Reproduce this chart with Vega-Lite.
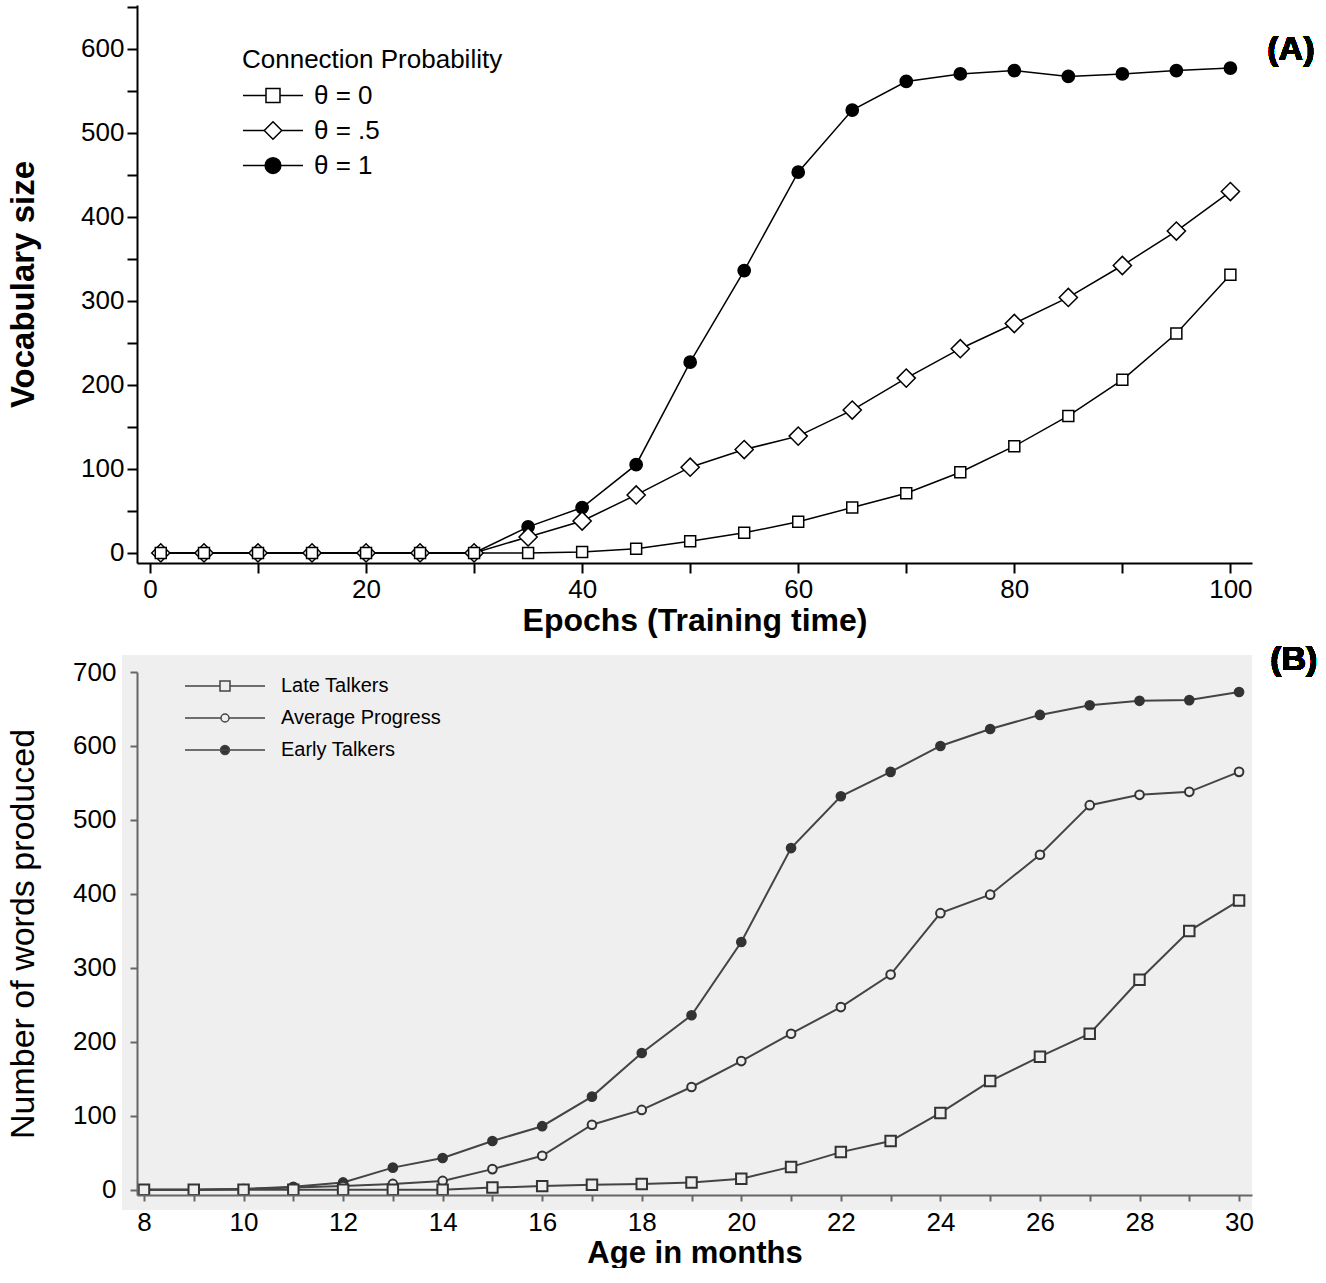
{
  "$schema": "https://vega.github.io/schema/vega-lite/v6.json",
  "padding": {"left": 6, "top": 5, "right": 0, "bottom": 0},
  "background": "white",
  "config": {
    "font": "Liberation Sans",
    "view": {"stroke": null},
    "axis": {"grid": false, "labelColor": "black", "titleColor": "black", "labelFont": "Liberation Sans", "titleFont": "Liberation Sans"},
    "legend": {"labelFont": "Liberation Sans", "titleFont": "Liberation Sans", "labelColor": "black", "titleColor": "black"}
  },
  "datasets": {
    "sim": [
      {"epoch": 1, "series": "θ = 1", "value": 0},
      {"epoch": 5, "series": "θ = 1", "value": 0},
      {"epoch": 10, "series": "θ = 1", "value": 0},
      {"epoch": 15, "series": "θ = 1", "value": 0},
      {"epoch": 20, "series": "θ = 1", "value": 0},
      {"epoch": 25, "series": "θ = 1", "value": 0},
      {"epoch": 30, "series": "θ = 1", "value": 0},
      {"epoch": 35, "series": "θ = 1", "value": 31},
      {"epoch": 40, "series": "θ = 1", "value": 54},
      {"epoch": 45, "series": "θ = 1", "value": 105},
      {"epoch": 50, "series": "θ = 1", "value": 227},
      {"epoch": 55, "series": "θ = 1", "value": 336},
      {"epoch": 60, "series": "θ = 1", "value": 453},
      {"epoch": 65, "series": "θ = 1", "value": 527},
      {"epoch": 70, "series": "θ = 1", "value": 561},
      {"epoch": 75, "series": "θ = 1", "value": 570},
      {"epoch": 80, "series": "θ = 1", "value": 574},
      {"epoch": 85, "series": "θ = 1", "value": 567},
      {"epoch": 90, "series": "θ = 1", "value": 570},
      {"epoch": 95, "series": "θ = 1", "value": 574},
      {"epoch": 100, "series": "θ = 1", "value": 577},
      {"epoch": 1, "series": "θ = .5", "value": 0},
      {"epoch": 5, "series": "θ = .5", "value": 0},
      {"epoch": 10, "series": "θ = .5", "value": 0},
      {"epoch": 15, "series": "θ = .5", "value": 0},
      {"epoch": 20, "series": "θ = .5", "value": 0},
      {"epoch": 25, "series": "θ = .5", "value": 0},
      {"epoch": 30, "series": "θ = .5", "value": 0},
      {"epoch": 35, "series": "θ = .5", "value": 19},
      {"epoch": 40, "series": "θ = .5", "value": 38},
      {"epoch": 45, "series": "θ = .5", "value": 69},
      {"epoch": 50, "series": "θ = .5", "value": 102},
      {"epoch": 55, "series": "θ = .5", "value": 123},
      {"epoch": 60, "series": "θ = .5", "value": 139},
      {"epoch": 65, "series": "θ = .5", "value": 170},
      {"epoch": 70, "series": "θ = .5", "value": 208},
      {"epoch": 75, "series": "θ = .5", "value": 243},
      {"epoch": 80, "series": "θ = .5", "value": 273},
      {"epoch": 85, "series": "θ = .5", "value": 304},
      {"epoch": 90, "series": "θ = .5", "value": 342},
      {"epoch": 95, "series": "θ = .5", "value": 383},
      {"epoch": 100, "series": "θ = .5", "value": 430},
      {"epoch": 1, "series": "θ = 0", "value": 0},
      {"epoch": 5, "series": "θ = 0", "value": 0},
      {"epoch": 10, "series": "θ = 0", "value": 0},
      {"epoch": 15, "series": "θ = 0", "value": 0},
      {"epoch": 20, "series": "θ = 0", "value": 0},
      {"epoch": 25, "series": "θ = 0", "value": 0},
      {"epoch": 30, "series": "θ = 0", "value": 0},
      {"epoch": 35, "series": "θ = 0", "value": 0},
      {"epoch": 40, "series": "θ = 0", "value": 1},
      {"epoch": 45, "series": "θ = 0", "value": 5},
      {"epoch": 50, "series": "θ = 0", "value": 14},
      {"epoch": 55, "series": "θ = 0", "value": 24},
      {"epoch": 60, "series": "θ = 0", "value": 37},
      {"epoch": 65, "series": "θ = 0", "value": 54},
      {"epoch": 70, "series": "θ = 0", "value": 71},
      {"epoch": 75, "series": "θ = 0", "value": 96},
      {"epoch": 80, "series": "θ = 0", "value": 127},
      {"epoch": 85, "series": "θ = 0", "value": 163},
      {"epoch": 90, "series": "θ = 0", "value": 206},
      {"epoch": 95, "series": "θ = 0", "value": 261},
      {"epoch": 100, "series": "θ = 0", "value": 331}
    ],
    "kids": [
      {"age": 8, "group": "Early Talkers", "words": 0},
      {"age": 9, "group": "Early Talkers", "words": 0},
      {"age": 10, "group": "Early Talkers", "words": 1},
      {"age": 11, "group": "Early Talkers", "words": 4},
      {"age": 12, "group": "Early Talkers", "words": 10},
      {"age": 13, "group": "Early Talkers", "words": 30},
      {"age": 14, "group": "Early Talkers", "words": 43},
      {"age": 15, "group": "Early Talkers", "words": 66},
      {"age": 16, "group": "Early Talkers", "words": 86},
      {"age": 17, "group": "Early Talkers", "words": 126},
      {"age": 18, "group": "Early Talkers", "words": 185},
      {"age": 19, "group": "Early Talkers", "words": 236},
      {"age": 20, "group": "Early Talkers", "words": 335},
      {"age": 21, "group": "Early Talkers", "words": 462},
      {"age": 22, "group": "Early Talkers", "words": 532},
      {"age": 23, "group": "Early Talkers", "words": 565},
      {"age": 24, "group": "Early Talkers", "words": 600},
      {"age": 25, "group": "Early Talkers", "words": 623},
      {"age": 26, "group": "Early Talkers", "words": 642},
      {"age": 27, "group": "Early Talkers", "words": 655},
      {"age": 28, "group": "Early Talkers", "words": 661},
      {"age": 29, "group": "Early Talkers", "words": 662},
      {"age": 30, "group": "Early Talkers", "words": 673},
      {"age": 8, "group": "Average Progress", "words": 0},
      {"age": 9, "group": "Average Progress", "words": 0},
      {"age": 10, "group": "Average Progress", "words": 1},
      {"age": 11, "group": "Average Progress", "words": 3},
      {"age": 12, "group": "Average Progress", "words": 5},
      {"age": 13, "group": "Average Progress", "words": 8},
      {"age": 14, "group": "Average Progress", "words": 12},
      {"age": 15, "group": "Average Progress", "words": 28},
      {"age": 16, "group": "Average Progress", "words": 46},
      {"age": 17, "group": "Average Progress", "words": 88},
      {"age": 18, "group": "Average Progress", "words": 108},
      {"age": 19, "group": "Average Progress", "words": 139},
      {"age": 20, "group": "Average Progress", "words": 174},
      {"age": 21, "group": "Average Progress", "words": 211},
      {"age": 22, "group": "Average Progress", "words": 247},
      {"age": 23, "group": "Average Progress", "words": 291},
      {"age": 24, "group": "Average Progress", "words": 374},
      {"age": 25, "group": "Average Progress", "words": 399},
      {"age": 26, "group": "Average Progress", "words": 453},
      {"age": 27, "group": "Average Progress", "words": 520},
      {"age": 28, "group": "Average Progress", "words": 534},
      {"age": 29, "group": "Average Progress", "words": 538},
      {"age": 30, "group": "Average Progress", "words": 565},
      {"age": 8, "group": "Late Talkers", "words": 0},
      {"age": 9, "group": "Late Talkers", "words": 0},
      {"age": 10, "group": "Late Talkers", "words": 0},
      {"age": 11, "group": "Late Talkers", "words": 0},
      {"age": 12, "group": "Late Talkers", "words": 0},
      {"age": 13, "group": "Late Talkers", "words": 0},
      {"age": 14, "group": "Late Talkers", "words": 0},
      {"age": 15, "group": "Late Talkers", "words": 3},
      {"age": 16, "group": "Late Talkers", "words": 5},
      {"age": 17, "group": "Late Talkers", "words": 7},
      {"age": 18, "group": "Late Talkers", "words": 8},
      {"age": 19, "group": "Late Talkers", "words": 10},
      {"age": 20, "group": "Late Talkers", "words": 15},
      {"age": 21, "group": "Late Talkers", "words": 31},
      {"age": 22, "group": "Late Talkers", "words": 51},
      {"age": 23, "group": "Late Talkers", "words": 66},
      {"age": 24, "group": "Late Talkers", "words": 104},
      {"age": 25, "group": "Late Talkers", "words": 147},
      {"age": 26, "group": "Late Talkers", "words": 180},
      {"age": 27, "group": "Late Talkers", "words": 211},
      {"age": 28, "group": "Late Talkers", "words": 284},
      {"age": 29, "group": "Late Talkers", "words": 350},
      {"age": 30, "group": "Late Talkers", "words": 391}
    ]
  },
  "vconcat": [
    {
      "width": 1115,
      "height": 558,
      "data": {"name": "sim"},
      "encoding": {
        "x": {
          "field": "epoch", "type": "quantitative",
          "scale": {"domain": [-1.2, 102], "nice": false, "zero": false},
          "axis": {
            "title": "Epochs (Training time)",
            "values": [0, 10, 20, 30, 40, 50, 60, 70, 80, 90, 100],
            "labelExpr": "datum.value % 20 === 0 ? datum.label : ''",
            "domainColor": "black", "domainWidth": 2,
            "tickColor": "black", "tickWidth": 2, "tickSize": 10,
            "labelFontSize": 26, "labelPadding": 3,
            "titleFontSize": 32, "titleFontWeight": "bold", "titlePadding": 3
          }
        },
        "y": {
          "field": "value", "type": "quantitative",
          "scale": {"domain": [-12, 652], "nice": false, "zero": false},
          "axis": {
            "title": "Vocabulary size",
            "values": [0, 50, 100, 150, 200, 250, 300, 350, 400, 450, 500, 550, 600, 650],
            "labelExpr": "datum.value % 100 === 0 ? datum.label : ''",
            "domainColor": "black", "domainWidth": 2,
            "tickColor": "black", "tickWidth": 2, "tickSize": 10,
            "labelFontSize": 26, "labelPadding": 3,
            "titleFontSize": 33, "titleFontWeight": "bold", "titlePadding": 40
          }
        }
      },
      "layer": [
        {
          "mark": {"type": "line", "color": "black", "strokeWidth": 1.5},
          "encoding": {"detail": {"field": "series"}}
        },
        {
          "mark": {"type": "point", "filled": true, "stroke": "black", "strokeWidth": 1.5, "opacity": 1},
          "encoding": {
            "shape": {
              "condition": [
                {"test": "datum.series === 'θ = 0'", "value": "square"},
                {"test": "datum.series === 'θ = .5'", "value": "diamond"}
              ],
              "value": "circle"
            },
            "fill": {"condition": {"test": "datum.series === 'θ = 1'", "value": "black"}, "value": "white"},
            "size": {
              "condition": [
                {"test": "datum.series === 'θ = .5'", "value": 330},
                {"test": "datum.series === 'θ = 1'", "value": 150}
              ],
              "value": 120
            }
          }
        },
        {
          "mark": {"type": "point", "filled": true, "stroke": "black", "strokeWidth": 1.5, "opacity": 1, "size": 0},
          "encoding": {
            "shape": {
              "field": "series", "type": "nominal",
              "scale": {
                "domain": ["θ = 0", "θ = .5", "θ = 1"],
                "range": [
                  "M-1,0H0.314M1.114,0H2.429M0.314,-0.4H1.114V0.4H0.314Z",
                  "M-1,0H0.214M1.214,0H2.429M0.714,-0.5L1.214,0L0.714,0.5L0.214,0Z",
                  "M-1,0H2.429M1.164,0A0.45,0.45,0,1,1,0.264,0A0.45,0.45,0,1,1,1.164,0Z"
                ]
              },
              "legend": {
                "title": "Connection Probability",
                "orient": "none", "legendX": 105, "legendY": 42,
                "titleFontSize": 26, "titleFontWeight": "normal", "titlePadding": 4, "titleLimit": 500,
                "labelFontSize": 26, "labelOffset": 35,
                "symbolSize": 1225, "rowPadding": 3
              }
            },
            "fill": {
              "field": "series", "type": "nominal",
              "scale": {"domain": ["θ = 0", "θ = .5", "θ = 1"], "range": ["white", "white", "black"]},
              "legend": {
                "title": "Connection Probability",
                "orient": "none", "legendX": 105, "legendY": 42,
                "titleFontSize": 26, "titleFontWeight": "normal", "titlePadding": 4, "titleLimit": 500,
                "labelFontSize": 26, "labelOffset": 35,
                "symbolSize": 1225, "rowPadding": 3
              }
            }
          }
        },
        {
          "mark": {"type": "text", "fontSize": 34, "fontWeight": "bold", "color": "black", "align": "center", "baseline": "middle"},
          "encoding": {"x": {"datum": 105.6}, "y": {"datum": 599}, "text": {"value": "(A)"}}
        }
      ]
    },
    {
      "width": 1115,
      "height": 523,
      "data": {"name": "kids"},
      "encoding": {
        "x": {
          "field": "age", "type": "quantitative",
          "scale": {"domain": [7.86, 30.26], "nice": false, "zero": false},
          "axis": {
            "title": "Age in months",
            "values": [8, 9, 10, 11, 12, 13, 14, 15, 16, 17, 18, 19, 20, 21, 22, 23, 24, 25, 26, 27, 28, 29, 30],
            "labelExpr": "datum.value % 2 === 0 ? datum.label : ''",
            "domainColor": "#666", "domainWidth": 2,
            "tickColor": "#666", "tickWidth": 2, "tickSize": 6,
            "labelFontSize": 26, "labelPadding": 8,
            "titleFontSize": 31, "titleFontWeight": "bold", "titlePadding": 3,
            "zindex": 1
          }
        },
        "y": {
          "field": "words", "type": "quantitative",
          "scale": {"domain": [-7, 700], "nice": false, "zero": false},
          "axis": {
            "title": "Number of words produced",
            "values": [0, 100, 200, 300, 400, 500, 600, 700],
            "domainColor": "#666", "domainWidth": 2,
            "tickColor": "#666", "tickWidth": 2, "tickSize": 7,
            "labelFontSize": 26, "labelPadding": 14,
            "titleFontSize": 34, "titleFontWeight": "normal", "titlePadding": 32,
            "zindex": 1
          }
        }
      },
      "layer": [
        {
          "mark": {"type": "rect", "color": "#efefef"},
          "encoding": {
            "x": {"datum": 7.56}, "x2": {"datum": 30.26},
            "y": {"datum": -27}, "y2": {"datum": 723}
          }
        },
        {
          "mark": {"type": "line", "color": "#444", "strokeWidth": 2},
          "encoding": {"detail": {"field": "group"}}
        },
        {
          "mark": {"type": "point", "filled": true, "stroke": "#333", "strokeWidth": 2, "opacity": 1},
          "encoding": {
            "shape": {"condition": {"test": "datum.group === 'Late Talkers'", "value": "square"}, "value": "circle"},
            "fill": {"condition": {"test": "datum.group === 'Early Talkers'", "value": "#333333"}, "value": "#eeeeee"},
            "size": {"condition": {"test": "datum.group === 'Late Talkers'", "value": 110}, "value": 75}
          }
        },
        {
          "mark": {"type": "point", "filled": true, "stroke": "#444", "strokeWidth": 2, "opacity": 1, "size": 0},
          "encoding": {
            "shape": {
              "field": "group", "type": "nominal",
              "scale": {
                "domain": ["Late Talkers", "Average Progress", "Early Talkers"],
                "range": [
                  "M-1,0H1.1875M1.8125,0H4M1.1875,-0.3125H1.8125V0.3125H1.1875Z",
                  "M-1,0H1.25M1.75,0H4M1.75,0A0.25,0.25,0,1,1,1.25,0A0.25,0.25,0,1,1,1.75,0Z",
                  "M-1,0H4M1.78,0A0.28,0.28,0,1,1,1.22,0A0.28,0.28,0,1,1,1.78,0Z"
                ]
              },
              "legend": {
                "title": null,
                "orient": "none", "legendX": 47, "legendY": -3,
                "labelFontSize": 20, "labelOffset": 63,
                "symbolSize": 1024, "rowPadding": 5
              }
            },
            "fill": {
              "field": "group", "type": "nominal",
              "scale": {"domain": ["Late Talkers", "Average Progress", "Early Talkers"], "range": ["#eeeeee", "#eeeeee", "#333333"]},
              "legend": {
                "title": null,
                "orient": "none", "legendX": 47, "legendY": -3,
                "labelFontSize": 20, "labelOffset": 63,
                "symbolSize": 1024, "rowPadding": 5
              }
            }
          }
        },
        {
          "mark": {"type": "text", "fontSize": 34, "fontWeight": "bold", "color": "black", "align": "center", "baseline": "middle"},
          "encoding": {"x": {"datum": 31.1}, "y": {"datum": 716}, "text": {"value": "(B)"}}
        }
      ]
    }
  ],
  "resolve": {"scale": {"x": "independent", "y": "independent", "shape": "independent", "fill": "independent"}, "legend": {"shape": "independent", "fill": "independent"}},
  "bounds": "flush",
  "spacing": 109
}
